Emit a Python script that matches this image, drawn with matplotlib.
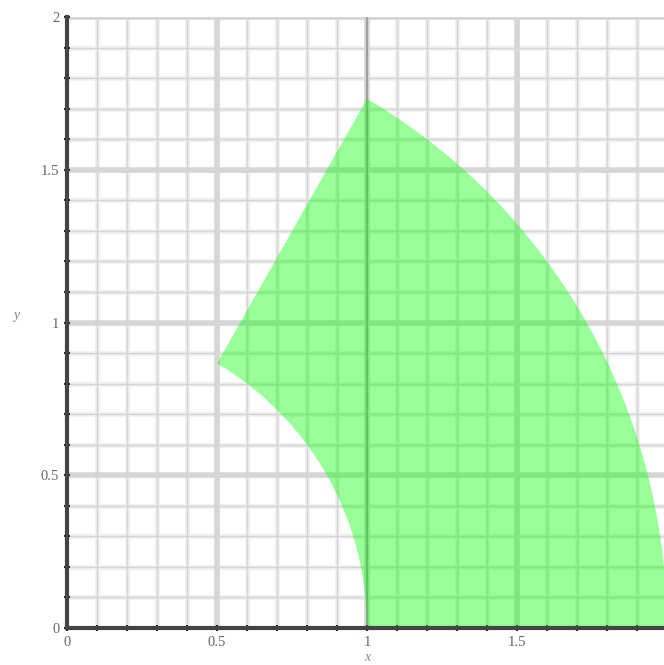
import numpy as np
import matplotlib.pyplot as plt

# region: 1 <= r <= 2, 0 <= theta <= 60 deg
r_inner = 1.0
r_outer = 2.0
theta_start = 0.0
theta_end = 60.0

x_ticks = [0, 0.5, 1, 1.5, 2]
x_tick_labels = ['0', '0.5', '1', '1.5', '2']
y_ticks = [0, 0.5, 1, 1.5, 2]
y_tick_labels = ['0', '0.5', '1', '1.5', '2']

# boundary of the region
t_out = np.radians(np.linspace(theta_start, theta_end, 200))
t_in = np.radians(np.linspace(theta_end, theta_start, 200))
xs = np.concatenate([r_outer * np.cos(t_out), r_inner * np.cos(t_in)])
ys = np.concatenate([r_outer * np.sin(t_out), r_inner * np.sin(t_in)])

fig = plt.figure(figsize=(6.64, 6.65), dpi=100)
ax = fig.add_axes([67 / 664, 37 / 665, 600 / 664, 611 / 665])
ax.set_xlim(0, 2)
ax.set_ylim(0, 2)

# grid, maple style
minor = np.arange(0.1, 2.0001, 0.1)
for v in minor:
    ax.axvline(v, color='#f0f0f0', lw=3.5, zorder=0)
    ax.axhline(v, color='#f0f0f0', lw=3.5, zorder=0)
    ax.axvline(v, color='#d4d4d4', lw=1.0, zorder=0.5)
    ax.axhline(v, color='#d4d4d4', lw=1.0, zorder=0.5)
for v in [0.5, 1.0, 1.5, 2.0]:
    ax.axvline(v, color='#d6d6d6', lw=4, zorder=0.6)
    ax.axhline(v, color='#d6d6d6', lw=4, zorder=0.6)
ax.axvline(1.0, color='#a0a0a0', lw=1.5, zorder=0.7)

ax.fill(xs, ys, color='#00ff00', alpha=0.4, lw=0, zorder=2)

for s in ['top', 'right']:
    ax.spines[s].set_visible(False)
for s in ['left', 'bottom']:
    ax.spines[s].set_color('#444444')
    ax.spines[s].set_linewidth(3)
    ax.spines[s].set_zorder(3)

ax.set_xticks(np.arange(0, 2.0001, 0.1), minor=True)
ax.set_yticks(np.arange(0, 2.0001, 0.1), minor=True)
ax.set_xticks(x_ticks)
ax.set_yticks(y_ticks)
ax.set_xticklabels(x_tick_labels)
ax.set_yticklabels(y_tick_labels)
ax.tick_params(which='both', direction='inout', length=5, width=1.5,
               color='#222222', labelsize=10.5, labelcolor='#666666', pad=3)
for lab in ax.get_xticklabels() + ax.get_yticklabels():
    lab.set_family('Liberation Serif')

ax.set_xlabel('x', family='Liberation Serif', style='italic', fontsize=10,
              color='#888888', labelpad=2)
ax.set_ylabel('y', family='Liberation Serif', style='italic', fontsize=10,
              color='#888888', rotation=0, labelpad=35)
ax.yaxis.set_label_coords(-0.085, 0.5)

fig.savefig('out.png', dpi=100)
